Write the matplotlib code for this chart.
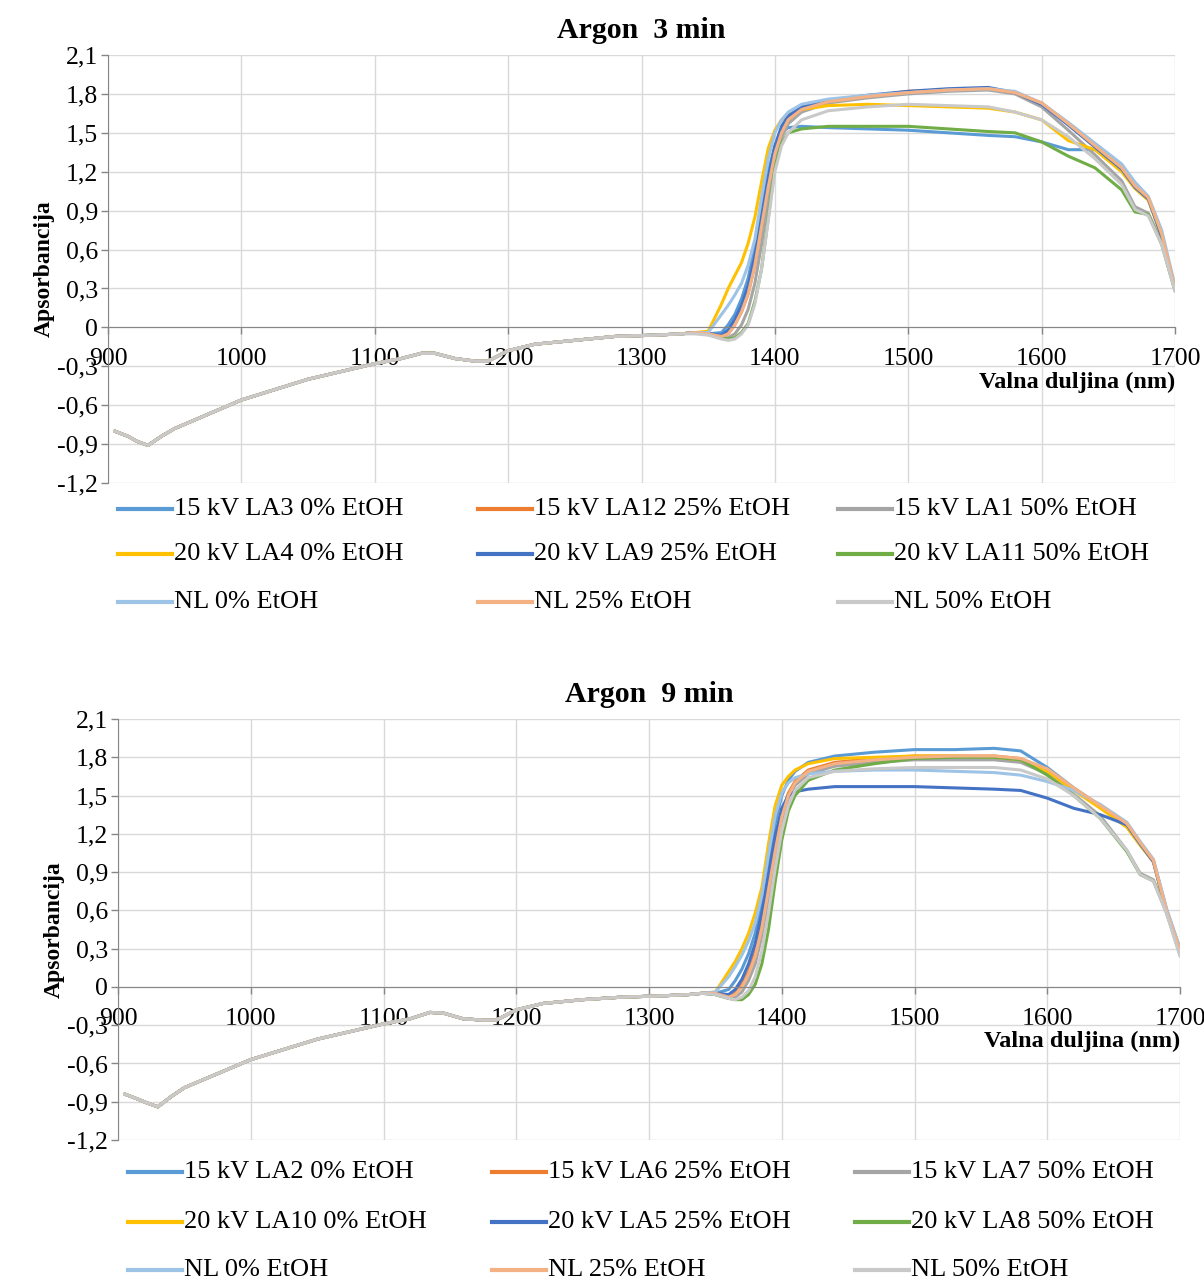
"""
Argon plasma treated samples - NIR absorbance spectra (3 min and 9 min)
"""

import matplotlib
matplotlib.use('Agg')
import matplotlib.pyplot as plt
from matplotlib.lines import Line2D
from matplotlib.ticker import FuncFormatter

plt.rcParams['font.family'] = ['Liberation Serif', 'DejaVu Serif']

# shared part of the spectra (all curves overlap here)
BASE_WL = [905, 915, 922, 930, 940, 950, 975, 1000, 1025, 1050, 1075, 1100,
           1120, 1135, 1145, 1160, 1175, 1185, 1200, 1220, 1250, 1280, 1310, 1330]
BASE_3MIN = [-0.80, -0.84, -0.88, -0.91, -0.84, -0.78, -0.67, -0.56, -0.48, -0.40,
             -0.34, -0.28, -0.24, -0.20, -0.20, -0.24, -0.26, -0.26, -0.18, -0.13,
             -0.10, -0.07, -0.06, -0.05]
BASE_9MIN = [-0.84, -0.88, -0.91, -0.94, -0.86, -0.79, -0.68, -0.57, -0.49, -0.41,
             -0.35, -0.29, -0.25, -0.20, -0.205, -0.25, -0.26, -0.26, -0.18, -0.13,
             -0.10, -0.08, -0.07, -0.06]

# absorption band region
TAIL_WL = [1340, 1350, 1360, 1365, 1370, 1375, 1380, 1385, 1390, 1395, 1400, 1405,
           1410, 1420, 1440, 1470, 1500, 1530, 1560, 1580, 1600, 1620, 1640, 1660,
           1670, 1680, 1690, 1700]

LABELS_3MIN = ['15 kV LA3 0% EtOH', '15 kV LA12 25% EtOH', '15 kV LA1 50% EtOH',
               '20 kV LA4 0% EtOH', '20 kV LA9 25% EtOH', '20 kV LA11 50% EtOH',
               'NL 0% EtOH', 'NL 25% EtOH', 'NL 50% EtOH']
TAILS_3MIN = [
    [-0.04, -0.05, -0.04, 0.02, 0.10, 0.22, 0.38, 0.62, 0.92, 1.20, 1.40, 1.50, 1.54, 1.55,
     1.54, 1.53, 1.52, 1.50, 1.48, 1.47, 1.43, 1.37, 1.37, 1.22, 1.08, 0.99, 0.72, 0.30],
    [-0.04, -0.05, -0.07, -0.05, 0.02, 0.12, 0.26, 0.48, 0.78, 1.08, 1.34, 1.50, 1.60, 1.68,
     1.74, 1.78, 1.82, 1.83, 1.84, 1.81, 1.73, 1.57, 1.40, 1.23, 1.09, 1.00, 0.72, 0.30],
    [-0.04, -0.05, -0.08, -0.08, -0.05, 0.02, 0.14, 0.34, 0.64, 0.98, 1.28, 1.46, 1.57, 1.66,
     1.73, 1.77, 1.80, 1.82, 1.83, 1.80, 1.70, 1.52, 1.33, 1.13, 0.93, 0.88, 0.66, 0.29],
    [-0.04, -0.03, 0.18, 0.30, 0.40, 0.50, 0.65, 0.85, 1.12, 1.38, 1.52, 1.60, 1.64, 1.68,
     1.71, 1.72, 1.71, 1.70, 1.69, 1.66, 1.60, 1.44, 1.37, 1.20, 1.07, 0.98, 0.70, 0.30],
    [-0.04, -0.05, -0.06, -0.02, 0.06, 0.17, 0.32, 0.55, 0.85, 1.15, 1.40, 1.55, 1.63, 1.70,
     1.75, 1.79, 1.82, 1.84, 1.85, 1.81, 1.72, 1.56, 1.39, 1.22, 1.08, 0.99, 0.70, 0.30],
    [-0.04, -0.05, -0.08, -0.09, -0.08, -0.04, 0.03, 0.20, 0.45, 0.84, 1.24, 1.42, 1.50, 1.53,
     1.55, 1.55, 1.55, 1.53, 1.51, 1.50, 1.43, 1.32, 1.23, 1.06, 0.89, 0.87, 0.64, 0.28],
    [-0.04, -0.04, 0.10, 0.17, 0.25, 0.34, 0.48, 0.68, 1.00, 1.30, 1.50, 1.60, 1.66, 1.72,
     1.76, 1.79, 1.81, 1.83, 1.84, 1.82, 1.73, 1.58, 1.42, 1.26, 1.12, 1.01, 0.75, 0.32],
    [-0.04, -0.05, -0.07, -0.05, 0.02, 0.12, 0.26, 0.48, 0.78, 1.08, 1.34, 1.50, 1.60, 1.68,
     1.74, 1.78, 1.81, 1.83, 1.84, 1.81, 1.73, 1.57, 1.40, 1.23, 1.09, 1.00, 0.72, 0.30],
    [-0.05, -0.06, -0.09, -0.10, -0.09, -0.05, 0.02, 0.18, 0.45, 0.82, 1.20, 1.40, 1.50, 1.60,
     1.67, 1.70, 1.72, 1.71, 1.70, 1.66, 1.60, 1.47, 1.30, 1.10, 0.91, 0.86, 0.64, 0.28],
]

LABELS_9MIN = ['15 kV LA2 0% EtOH', '15 kV LA6 25% EtOH', '15 kV LA7 50% EtOH',
               '20 kV LA10 0% EtOH', '20 kV LA5 25% EtOH', '20 kV LA8 50% EtOH',
               'NL 0% EtOH', 'NL 25% EtOH', 'NL 50% EtOH']
TAILS_9MIN = [
    [-0.05, -0.05, -0.02, 0.05, 0.14, 0.26, 0.42, 0.66, 0.98, 1.28, 1.50, 1.62, 1.69, 1.76,
     1.81, 1.84, 1.86, 1.86, 1.87, 1.85, 1.72, 1.56, 1.42, 1.28, 1.13, 0.99, 0.60, 0.30],
    [-0.05, -0.05, -0.08, -0.05, 0.02, 0.12, 0.27, 0.50, 0.80, 1.10, 1.36, 1.52, 1.61, 1.70,
     1.76, 1.79, 1.81, 1.81, 1.81, 1.79, 1.70, 1.55, 1.41, 1.27, 1.12, 0.98, 0.58, 0.29],
    [-0.05, -0.06, -0.09, -0.08, -0.04, 0.05, 0.18, 0.40, 0.70, 1.02, 1.30, 1.48, 1.58, 1.67,
     1.73, 1.76, 1.78, 1.78, 1.78, 1.76, 1.67, 1.51, 1.34, 1.07, 0.89, 0.84, 0.58, 0.25],
    [-0.05, -0.04, 0.12, 0.20, 0.30, 0.42, 0.58, 0.78, 1.12, 1.42, 1.58, 1.65, 1.70, 1.75,
     1.79, 1.80, 1.81, 1.81, 1.80, 1.78, 1.69, 1.54, 1.40, 1.25, 1.11, 0.98, 0.58, 0.29],
    [-0.05, -0.05, -0.06, -0.02, 0.06, 0.18, 0.34, 0.58, 0.88, 1.18, 1.40, 1.50, 1.53, 1.55,
     1.57, 1.57, 1.57, 1.56, 1.55, 1.54, 1.48, 1.40, 1.35, 1.27, 1.12, 0.98, 0.58, 0.29],
    [-0.05, -0.06, -0.09, -0.10, -0.10, -0.06, 0.02, 0.18, 0.45, 0.82, 1.15, 1.38, 1.50, 1.62,
     1.70, 1.75, 1.79, 1.80, 1.80, 1.78, 1.66, 1.50, 1.32, 1.06, 0.88, 0.83, 0.58, 0.26],
    [-0.05, -0.04, 0.08, 0.16, 0.25, 0.36, 0.50, 0.72, 1.04, 1.34, 1.52, 1.60, 1.64, 1.67,
     1.69, 1.70, 1.70, 1.69, 1.68, 1.66, 1.61, 1.54, 1.43, 1.29, 1.14, 1.00, 0.61, 0.30],
    [-0.05, -0.05, -0.08, -0.06, 0.00, 0.10, 0.24, 0.46, 0.76, 1.06, 1.33, 1.50, 1.60, 1.69,
     1.75, 1.78, 1.80, 1.81, 1.81, 1.79, 1.71, 1.56, 1.42, 1.28, 1.13, 0.99, 0.59, 0.29],
    [-0.05, -0.06, -0.09, -0.10, -0.08, -0.03, 0.08, 0.28, 0.58, 0.92, 1.22, 1.42, 1.54, 1.64,
     1.69, 1.71, 1.72, 1.72, 1.72, 1.70, 1.63, 1.50, 1.32, 1.07, 0.88, 0.83, 0.57, 0.24],
]

COLORS = ['#5B9BD5', '#ED7D31', '#A5A5A5', '#FFC000', '#4472C4', '#70AD47',
          '#9DC3E6', '#F4B183', '#C9C9C9']
X_TICKS = [900, 1000, 1100, 1200, 1300, 1400, 1500, 1600, 1700]
Y_TICKS = [-1.2, -0.9, -0.6, -0.3, 0, 0.3, 0.6, 0.9, 1.2, 1.5, 1.8, 2.1]

TICK_FS = 18.5
LEG_FS = 19
W, H = 1204, 1281


def comma_fmt(v, pos):
    if abs(v) < 1e-9:
        return '0'
    return f'{v:.1f}'.replace('.', ',')


def draw_panel(ax, title, labels, base, tails):
    wl = BASE_WL + TAIL_WL
    for lab, col, tail in zip(labels, COLORS, tails):
        ax.plot(wl, base + tail, color=col, lw=2.2, label=lab, solid_capstyle='round')

    ax.set_xlim(900, 1700)
    ax.set_ylim(-1.2, 2.1)
    ax.set_xticks(X_TICKS)
    ax.set_yticks(Y_TICKS)
    ax.yaxis.set_major_formatter(FuncFormatter(comma_fmt))
    ax.grid(True, color='#D9D9D9', lw=1.0)
    ax.set_axisbelow(True)

    for s in ['top', 'right']:
        ax.spines[s].set_visible(False)
    ax.spines['bottom'].set_position(('data', 0))
    ax.spines['bottom'].set_color('#868686')
    ax.spines['left'].set_color('#868686')
    ax.tick_params(axis='both', colors='#868686', labelcolor='black', labelsize=TICK_FS,
                   length=5, width=1)
    ax.tick_params(axis='x', pad=10)
    ax.tick_params(axis='y', pad=2)

    ax.set_title(title, fontsize=21.5, fontweight='bold', pad=12)
    ax.set_xlabel('Valna duljina (nm)', fontsize=17.5, fontweight='bold', loc='right',
                  labelpad=1)
    ax.set_ylabel('Apsorbancija', fontsize=17, fontweight='bold', labelpad=2)


def draw_legend(fig, labels, col_x, row_y):
    # Excel-like legend: 3 columns filled row by row
    for i, (lab, col) in enumerate(zip(labels, COLORS)):
        x0 = col_x[i % 3] / W
        y0 = 1 - row_y[i // 3] / H
        fig.add_artist(Line2D([x0, x0 + 54 / W], [y0, y0], color=col, lw=3,
                              transform=fig.transFigure))
        fig.text(x0 + 56 / W, y0, lab, fontsize=LEG_FS, va='center', ha='left')


fig = plt.figure(figsize=(W / 100, H / 100), dpi=100)

ax1 = fig.add_axes([108 / W, 1 - 483 / H, (1175 - 108) / W, (483 - 55) / H])
draw_panel(ax1, 'Argon  3 min', LABELS_3MIN, BASE_3MIN, TAILS_3MIN)
draw_legend(fig, LABELS_3MIN, [118, 478, 838], [509, 554, 602])

ax2 = fig.add_axes([118 / W, 1 - 1140 / H, (1180 - 118) / W, (1140 - 719) / H])
draw_panel(ax2, 'Argon  9 min', LABELS_9MIN, BASE_9MIN, TAILS_9MIN)
draw_legend(fig, LABELS_9MIN, [128, 492, 855], [1172, 1222, 1270])

fig.savefig('out.png', dpi=100)
